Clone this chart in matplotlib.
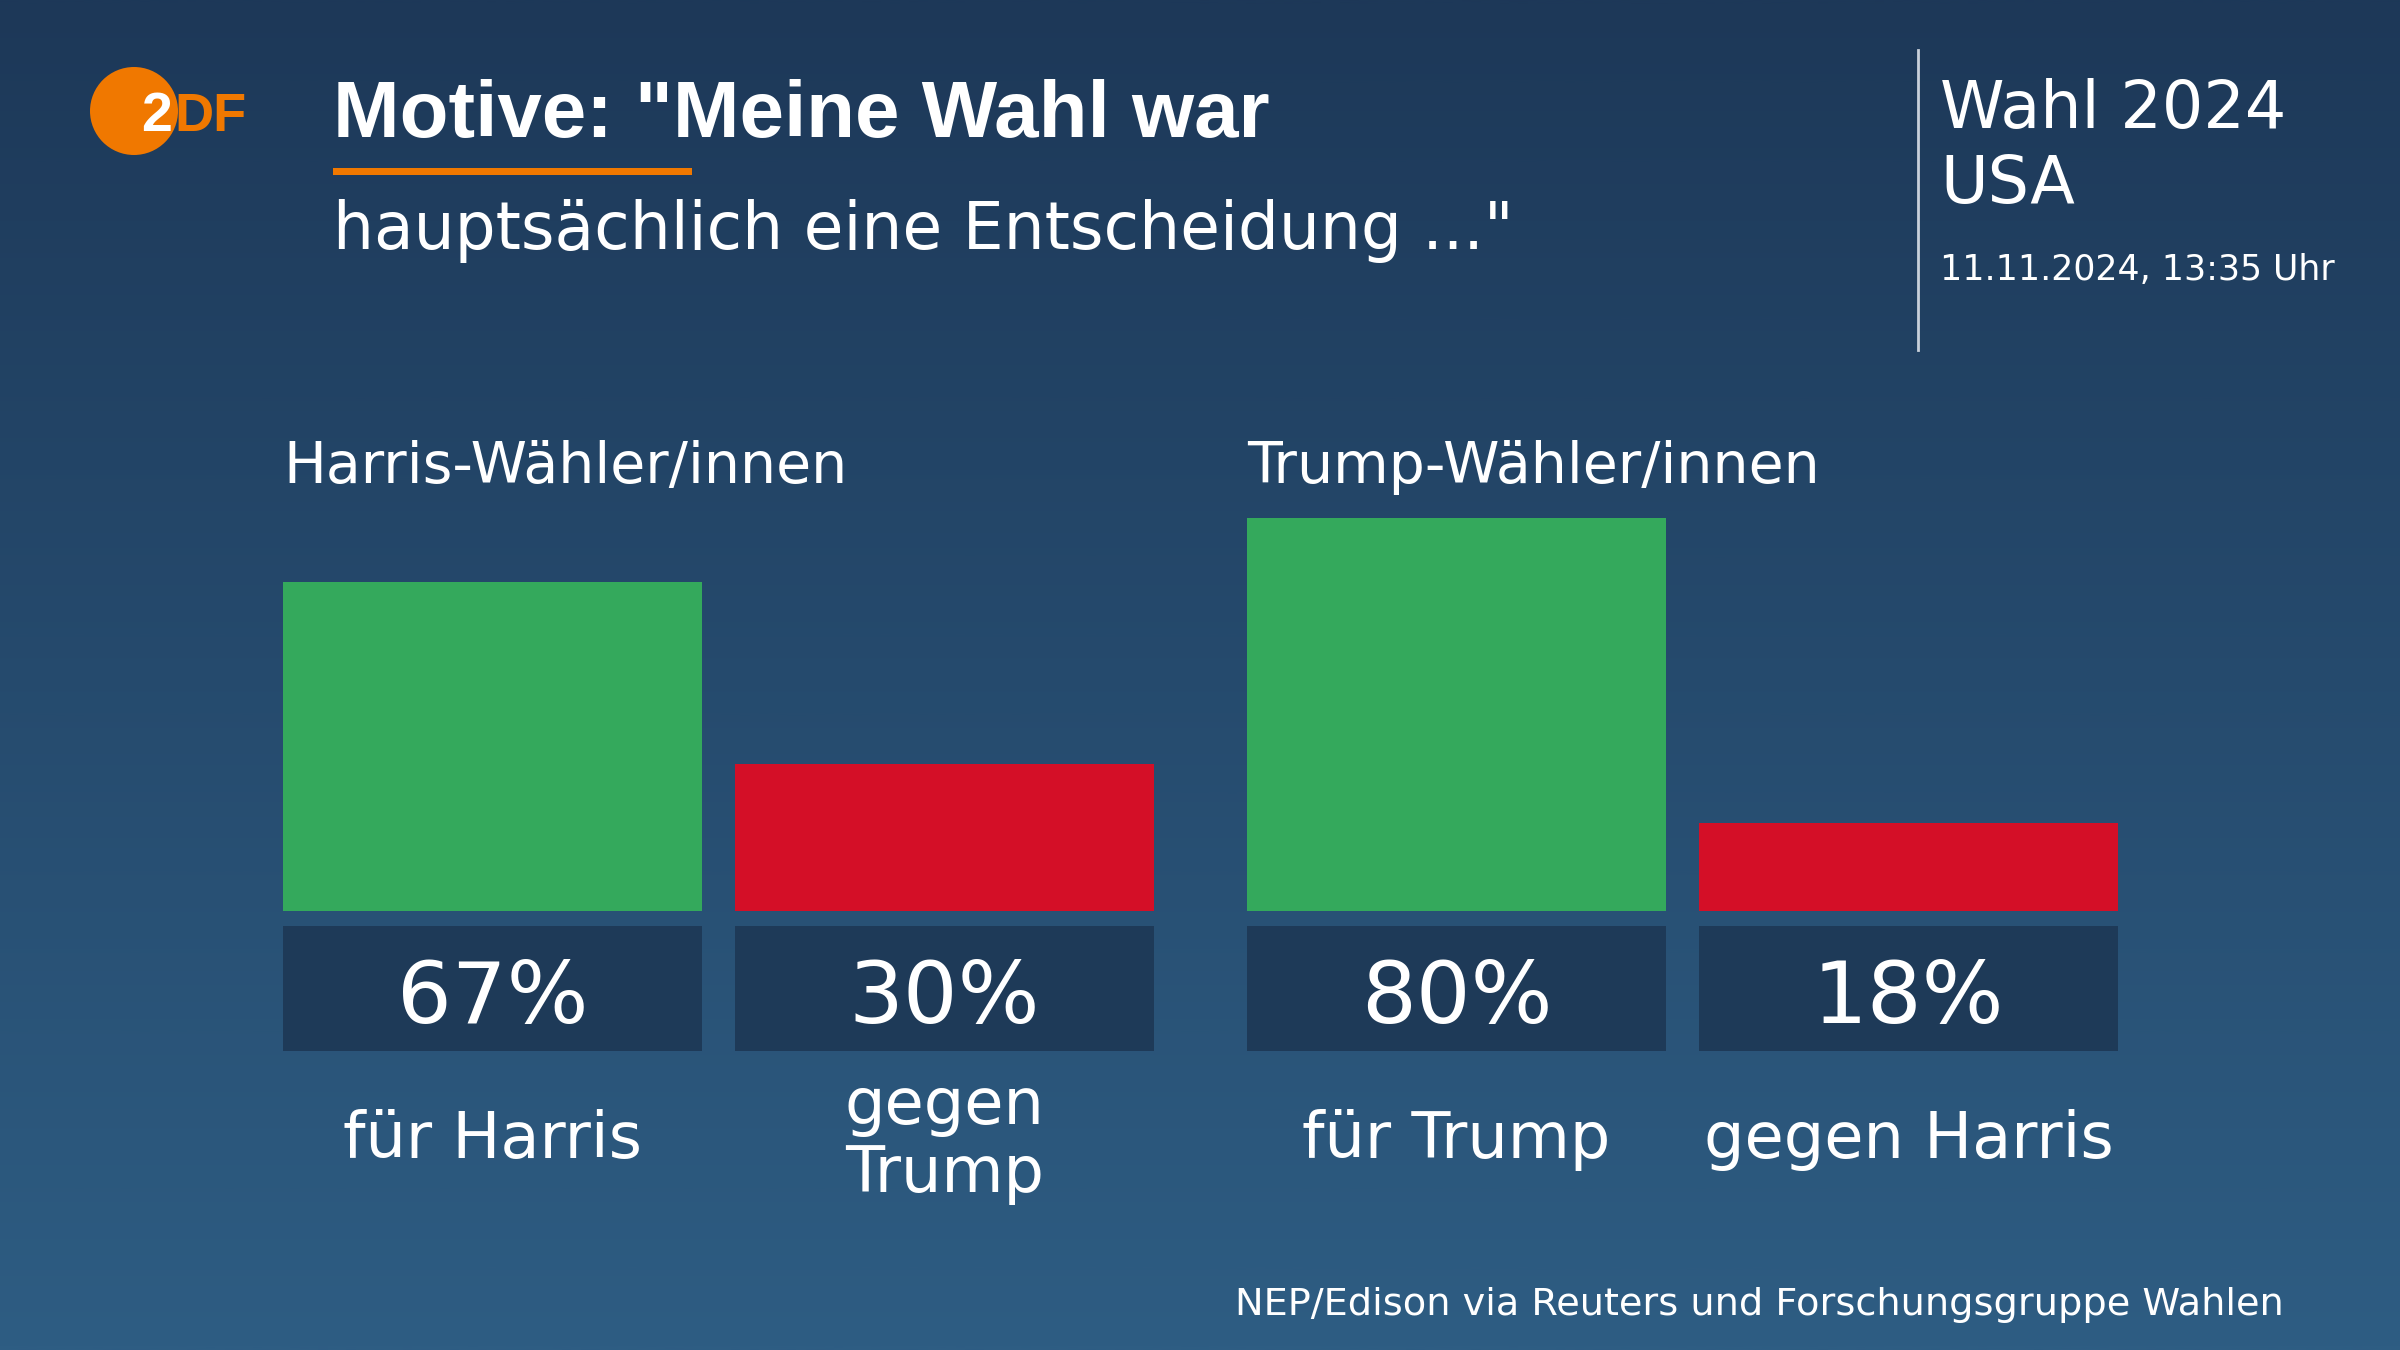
import numpy as np
import matplotlib
matplotlib.use("Agg")
import matplotlib.pyplot as plt
from matplotlib.transforms import Affine2D
from matplotlib.patches import Circle
from matplotlib.colors import LinearSegmentedColormap

# ---------------- data ----------------
groups = ["Harris-Wähler/innen", "Trump-Wähler/innen"]
categories = ["für Harris", "gegen\nTrump", "für Trump", "gegen Harris"]
values = [67, 30, 80, 18]
kinds = ["für", "gegen", "für", "gegen"]

title_line1 = 'Motive: "Meine Wahl war'
title_line2 = 'hauptsächlich eine Entscheidung ..."'
side_title = ["Wahl 2024", "USA"]
side_date = "11.11.2024, 13:35 Uhr"
source = "NEP/Edison via Reuters und Forschungsgruppe Wahlen"

# ---------------- style ----------------
W, H = 2400, 1350
BG_TOP = "#1d3858"
BG_BOT = "#2e5d83"
GREEN = "#34a95c"
RED = "#d40f27"
BOX = "#1e3a58"
ORANGE = "#f07800"
WHITE = "#ffffff"
kind_color = {"für": GREEN, "gegen": RED}

FONT = ["DejaVu Sans"]
FONT_TITLE = ["Liberation Sans", "DejaVu Sans"]

fig = plt.figure(figsize=(W / 100, H / 100), dpi=100)

# pixel (top-left origin) -> figure transform
T = Affine2D().scale(1 / W, -1 / H).translate(0, 1) + fig.transFigure

# background gradient
bg = fig.add_axes([0, 0, 1, 1], zorder=0)
cmap = LinearSegmentedColormap.from_list("bg", [BG_TOP, BG_BOT])
grad = np.linspace(0, 1, 512).reshape(-1, 1)
bg.imshow(grad, aspect="auto", cmap=cmap, extent=[0, 1, 0, 1], origin="upper")
bg.set_axis_off()

# ---------------- bar axes ----------------
baseline_px = 911
px_per_pct = 4.91
ax = fig.add_axes([0, 0, 1, 1], zorder=1)
ax.patch.set_alpha(0)
ax.set_xlim(0, W)
ax.set_ylim((baseline_px - H) / px_per_pct, baseline_px / px_per_pct)
ax.set_axis_off()

def pct(py):
    return (baseline_px - py) / px_per_pct

group_left = [283, 1247]
pitch = 452
bar_w = 419
xcenters = []
for g in range(len(groups)):
    for k in range(2):
        xcenters.append(group_left[g] + k * pitch + bar_w / 2)
xcenters = np.array(xcenters)

ax.bar(xcenters, values, width=bar_w, color=[kind_color[k] for k in kinds],
       linewidth=0)

# value boxes under bars
box_top, box_bot = 926, 1051
ax.bar(xcenters, pct(box_bot) - pct(box_top), bottom=pct(box_top), width=bar_w,
       color=BOX, linewidth=0)

for x, v in zip(xcenters, values):
    ax.text(x, pct(1023), f"{v}%", ha="center", va="baseline", color=WHITE,
            fontsize=62, family=FONT)

# category labels (one text per line, block centred on the single-line baseline)
line_gap = 68
for x, c in zip(xcenters, categories):
    lines = c.split("\n")
    n = len(lines)
    first_base = 1158 - (n - 1) * line_gap / 2
    for i, ln in enumerate(lines):
        ax.text(x, pct(first_base + i * line_gap), ln, ha="center",
                va="baseline", color=WHITE, fontsize=46, family=FONT)

# group labels
for g, name in enumerate(groups):
    fig.text(group_left[g], 483, name, transform=T, ha="left", va="baseline",
             color=WHITE, fontsize=41, family=FONT)

# ---------------- header ----------------
fig.text(333, 137, title_line1, transform=T, ha="left", va="baseline",
         color=WHITE, fontsize=57.5, fontweight="bold", family=FONT_TITLE)
fig.add_artist(plt.Rectangle((333, 168), 359, 7, transform=T, color=ORANGE,
                             linewidth=0))
fig.text(333, 249, title_line2, transform=T, ha="left", va="baseline",
         color=WHITE, fontsize=46.5, family=FONT)

# ZDF logo
fig.add_artist(Circle((134, 111), 44, transform=T, color=ORANGE, linewidth=0))
fig.text(141, 131, "2", transform=T, ha="left", va="baseline", color=WHITE,
         fontsize=40, fontweight="bold", family=FONT_TITLE)
fig.text(174, 131, "DF", transform=T, ha="left", va="baseline", color=ORANGE,
         fontsize=39, fontweight="bold", family=FONT_TITLE)

# side panel
fig.add_artist(plt.Line2D([1918, 1918], [50, 350], transform=T,
                          color="#c8d0da", linewidth=2))
for i, ln in enumerate(side_title):
    fig.text(1940, 128 + i * 75, ln, transform=T, ha="left", va="baseline",
             color=WHITE, fontsize=47, family=FONT)
fig.text(1940, 280, side_date, transform=T, ha="left", va="baseline",
         color=WHITE, fontsize=25, family=FONT)

# source
fig.text(2284, 1315, source, transform=T, ha="right", va="baseline",
         color=WHITE, fontsize=27.5, family=FONT)

fig.savefig("out.png", dpi=100)
